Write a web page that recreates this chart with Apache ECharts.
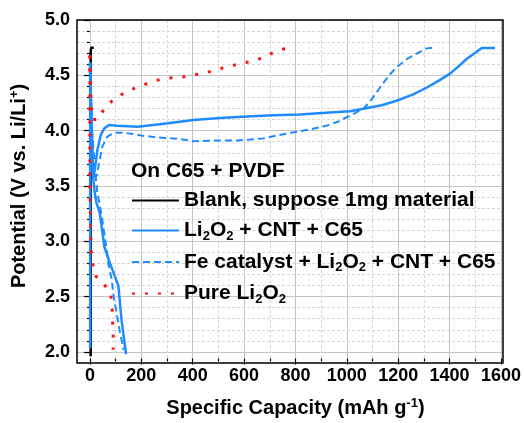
<!DOCTYPE html>
<html>
<head>
<meta charset="utf-8">
<script src="https://cdn.jsdelivr.net/npm/echarts@6/dist/echarts.min.js"></script>
<style>
  html, body { margin: 0; padding: 0; background: #fff; }
  #chart { width: 524px; height: 423px; }
</style>
</head>
<body>
<div id="chart"></div>
<script>
// Blank electrode (C65 + PVDF only, 1 mg assumed)
const blankCapacity  = [3, 3, 5, 15];
const blankPotential = [1.96, 4.72, 4.75, 4.75];

// Li2O2 + CNT + C65 : charge and discharge
const cntChargeCapacity  = [1, 1, 4, 8, 12, 16, 29, 42, 55, 74, 106, 184, 219, 303, 400, 503, 607, 710, 813, 900, 1007, 1059, 1130, 1188, 1250, 1305, 1350, 1395, 1430, 1460, 1490, 1518, 1569];
const cntChargePotential = [2.03, 4.62, 4.30, 3.90, 3.62, 3.60, 3.825, 3.96, 4.02, 4.05, 4.045, 4.036, 4.045, 4.066, 4.097, 4.115, 4.127, 4.14, 4.145, 4.16, 4.175, 4.197, 4.23, 4.27, 4.325, 4.39, 4.45, 4.515, 4.585, 4.65, 4.70, 4.748, 4.748];
const cntDischargeCapacity  = [0, 6, 12, 18, 25, 38, 56, 78, 110, 123, 140];
const cntDischargePotential = [4.60, 4.10, 3.60, 3.45, 3.35, 3.26, 2.95, 2.80, 2.60, 2.28, 1.98];

// Fe catalyst + Li2O2 + CNT + C65 : charge and discharge
const feChargeCapacity  = [0, 5, 12, 20, 27, 35, 48, 67, 93, 132, 171, 200, 258, 348, 400, 478, 568, 620, 671, 723, 788, 850, 917, 960, 1007, 1059, 1090, 1124, 1155, 1188, 1230, 1266, 1300, 1317, 1337];
const feChargePotential = [4.60, 4.20, 3.80, 3.58, 3.60, 3.70, 3.855, 3.945, 3.98, 3.98, 3.97, 3.955, 3.94, 3.925, 3.905, 3.91, 3.91, 3.92, 3.93, 3.955, 3.985, 4.01, 4.045, 4.08, 4.136, 4.197, 4.28, 4.39, 4.49, 4.575, 4.65, 4.697, 4.74, 4.748, 4.748];
const feDischargeCapacity  = [0, 8, 18, 28, 45, 64, 71, 84, 93, 103, 116, 126, 130];
const feDischargePotential = [4.60, 4.00, 3.70, 3.45, 3.24, 2.94, 2.80, 2.66, 2.48, 2.36, 2.18, 2.07, 2.02];

// Pure Li2O2 : charge and discharge
const pureChargeCapacity  = [0, 3, 10, 32, 58, 97, 142, 193, 243, 294, 345, 396, 445, 488, 536, 590, 638, 686, 733, 777];
const purePotentialCharge = [4.68, 4.30, 4.10, 4.10, 4.21, 4.29, 4.355, 4.40, 4.445, 4.475, 4.48, 4.50, 4.52, 4.55, 4.58, 4.61, 4.63, 4.68, 4.73, 4.75];
const pureDischargeCapacity  = [0, 0, 5, 10, 15, 49, 80, 86, 88, 90, 90];
const pureDischargePotential = [4.68, 3.50, 2.90, 2.83, 2.70, 2.63, 2.53, 2.41, 2.27, 2.15, 2.02];

// Axis tick values
const xTicks = [0, 200, 400, 600, 800, 1000, 1200, 1400, 1600];
const yTicks = [2.0, 2.5, 3.0, 3.5, 4.0, 4.5, 5.0];

const seriesNames = [
  'Blank, suppose 1mg material',
  'Li2O2 + CNT + C65',
  'Fe catalyst + Li2O2 + CNT + C65',
  'Pure Li2O2'
];
const legendRich = {
  'Blank, suppose 1mg material': 'Blank, suppose 1mg material',
  'Li2O2 + CNT + C65': 'Li{sub|2}O{sub|2} + CNT + C65',
  'Fe catalyst + Li2O2 + CNT + C65': 'Fe catalyst + Li{sub|2}O{sub|2} + CNT + C65',
  'Pure Li2O2': 'Pure Li{sub|2}O{sub|2}'
};

const zip = (xs, ys) => xs.map((x, i) => [x, ys[i]]);

// Plot frame geometry
const W = 524, H = 423;
const L = 77, R = 21, T = 20, B = 60;
const X_MIN = -50, X_MAX = xTicks[xTicks.length - 1];
const Y_MIN = 1.9, Y_MAX = yTicks[yTicks.length - 1];
const pxPerX = (W - L - R) / (X_MAX - X_MIN);
const pxPerY = (H - T - B) / (Y_MAX - Y_MIN);
const xZeroLeft = L + (xTicks[0] - X_MIN) * pxPerX;
const yBaseBottom = B + (yTicks[0] - Y_MIN) * pxPerY;

const FONT = "'Liberation Sans', Arial, sans-serif";
const BLUE = '#1e8cff';
const RED = '#ff1010';

const majorGrid = { show: true, lineStyle: { color: '#c4c4c4', width: 1, type: 'solid' } };
const minorGrid = { show: true, lineStyle: { color: '#d6d6d6', width: 1, type: [3, 2] } };
const tickLabel = { color: '#000', fontFamily: FONT, fontWeight: 'bold', fontSize: 18 };

function lineSeries(name, cap, pot, style) {
  return {
    name: name,
    type: 'line',
    xAxisIndex: 0,
    yAxisIndex: 0,
    data: zip(cap, pot),
    symbol: 'none',
    showSymbol: false,
    smooth: false,
    lineStyle: style,
    itemStyle: { color: style.color },
    z: 3
  };
}

const blackStyle = { color: '#000', width: 2.5, type: 'solid' };
const cntStyle = { color: BLUE, width: 2.5, type: 'solid' };
const feStyle = { color: BLUE, width: 2, type: [7, 4] };
const pureStyle = { color: RED, width: 3, type: [3, 10] };

const chart = echarts.init(document.getElementById('chart'), null, { renderer: 'canvas' });
chart.setOption({
  animation: false,
  backgroundColor: '#fff',
  title: {
    text: 'On C65 + PVDF',
    left: 131, top: 161,
    padding: 0,
    textStyle: { color: '#000', fontFamily: FONT, fontWeight: 'bold', fontSize: 21 }
  },
  legend: {
    data: seriesNames,
    orient: 'vertical',
    left: 131, top: 190,
    padding: 0,
    itemWidth: 47, itemHeight: 14, itemGap: 9,
    selectedMode: false,
    itemStyle: { opacity: 0, borderWidth: 0 },
    formatter: name => legendRich[name],
    textStyle: {
      color: '#000', fontFamily: FONT, fontWeight: 'bold', fontSize: 21,
      rich: {
        sub: { fontFamily: FONT, fontWeight: 'bold', fontSize: 13, padding: [11, 0, 0, 0] }
      }
    }
  },
  grid: [
    // data frame
    { left: L, right: R, top: T, bottom: B, show: true, borderColor: '#000', borderWidth: 1.5, z: 5 },
    // vertical grid lines + capacity labels
    { left: xZeroLeft, right: R, top: T, bottom: B },
    // horizontal grid lines + potential labels
    { left: L, right: R, top: T, bottom: yBaseBottom }
  ],
  xAxis: [
    { gridIndex: 0, type: 'value', min: X_MIN, max: X_MAX, show: false },
    {
      gridIndex: 1, type: 'value', min: xTicks[0], max: X_MAX, interval: 200,
      axisLine: { show: false },
      axisTick: { show: true, inside: false, length: 6, lineStyle: { color: '#000', width: 1.2 } },
      minorTick: { show: true, splitNumber: 2, length: 3, lineStyle: { color: '#000', width: 1.2 } },
      splitLine: majorGrid,
      minorSplitLine: minorGrid,
      axisLabel: Object.assign({ margin: 9, formatter: v => String(v) }, tickLabel),
      name: 'Specific Capacity (mAh g{sup|-1})',
      nameLocation: 'middle',
      nameGap: 38,
      nameTextStyle: {
        color: '#000', fontFamily: FONT, fontWeight: 'bold', fontSize: 20,
        rich: { sup: { fontFamily: FONT, fontWeight: 'bold', fontSize: 13, padding: [0, 0, 10, 0] } }
      }
    },
    { gridIndex: 2, type: 'value', min: X_MIN, max: X_MAX, show: false }
  ],
  yAxis: [
    { gridIndex: 0, type: 'value', min: Y_MIN, max: Y_MAX, show: false },
    { gridIndex: 1, type: 'value', min: Y_MIN, max: Y_MAX, show: false },
    {
      gridIndex: 2, type: 'value', min: yTicks[0], max: Y_MAX, interval: 0.5,
      axisLine: { show: false },
      axisTick: { show: true, inside: false, length: 6, lineStyle: { color: '#000', width: 1.2 } },
      minorTick: { show: true, splitNumber: 5, length: 3, lineStyle: { color: '#000', width: 1.2 } },
      splitLine: majorGrid,
      minorSplitLine: minorGrid,
      axisLabel: Object.assign({ margin: 7, formatter: v => v.toFixed(1) }, tickLabel),
      name: 'Potential (V vs. Li/Li{sup|+})',
      nameLocation: 'middle',
      nameGap: 46,
      nameTextStyle: {
        color: '#000', fontFamily: FONT, fontWeight: 'bold', fontSize: 20,
        rich: { sup: { fontFamily: FONT, fontWeight: 'bold', fontSize: 13, padding: [0, 0, 10, 0] } }
      }
    }
  ],
  series: [
    lineSeries(seriesNames[0], blankCapacity, blankPotential, blackStyle),
    lineSeries(seriesNames[1], cntChargeCapacity, cntChargePotential, cntStyle),
    lineSeries(seriesNames[1], cntDischargeCapacity, cntDischargePotential, cntStyle),
    lineSeries(seriesNames[2], feChargeCapacity, feChargePotential, feStyle),
    lineSeries(seriesNames[2], feDischargeCapacity, feDischargePotential, feStyle),
    lineSeries(seriesNames[3], pureChargeCapacity, purePotentialCharge, pureStyle),
    lineSeries(seriesNames[3], pureDischargeCapacity, pureDischargePotential, pureStyle)
  ]
});
</script>
</body>
</html>
